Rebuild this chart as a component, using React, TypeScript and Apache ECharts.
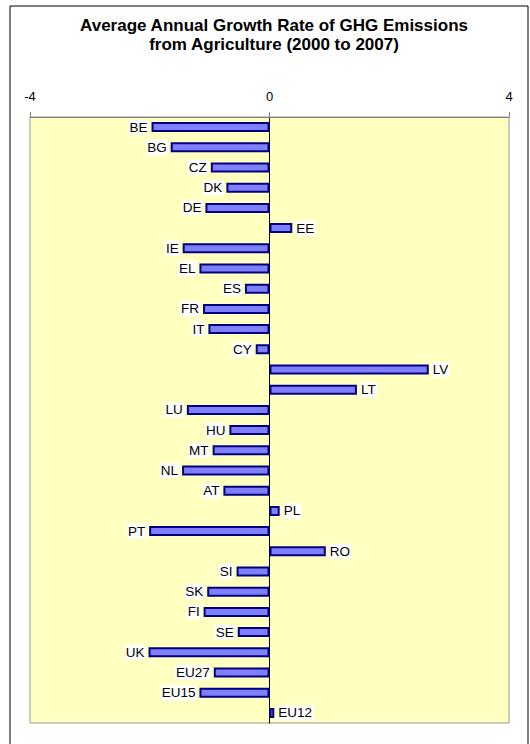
import React, { useEffect, useRef } from "react";
import * as echarts from "echarts";

const categories = ["BE","BG","CZ","DK","DE","EE","IE","EL","ES","FR","IT","CY","LV","LT","LU","HU","MT","NL","AT","PL","PT","RO","SI","SK","FI","SE","UK","EU27","EU15","EU12"];
const growthRates = [-1.97,-1.65,-0.98,-0.72,-1.07,0.38,-1.45,-1.17,-0.41,-1.11,-1.02,-0.23,2.66,1.46,-1.38,-0.67,-0.95,-1.46,-0.77,0.17,-2.01,0.94,-0.55,-1.04,-1.10,-0.53,-2.02,-0.93,-1.17,0.08];
const titleText = "Average Annual Growth Rate of GHG Emissions\nfrom Agriculture (2000 to 2007)";
const axisMin = -4;
const axisMax = 4;
const axisInterval = 4;

export default function App() {
  const ref = useRef<HTMLDivElement>(null);
  useEffect(() => {
    if (!ref.current) return;
    const chart = echarts.init(ref.current, null, { renderer: "svg" });
    const font = "Arial, 'Liberation Sans', sans-serif";
    chart.setOption({
      animation: false,
      backgroundColor: "#ffffff",
      title: {
        text: titleText,
        left: 269,
        textAlign: "center",
        top: 11,
        textStyle: { fontFamily: font, fontWeight: "bold", fontSize: 17, lineHeight: 19, color: "#000" },
      },
      graphic: [
        {
          type: "rect",
          z: -10,
          shape: { x: 10, y: 6, width: 518, height: 760 },
          style: { fill: "none", stroke: "#000", lineWidth: 1 },
        },
      ],
      grid: {
        left: 30,
        right: 21,
        top: 117,
        bottom: 21,
        show: true,
        backgroundColor: "#FFFFC0",
        borderColor: "#999999",
        borderWidth: 1,
      },
      xAxis: {
        type: "value",
        position: "top",
        min: axisMin,
        max: axisMax,
        interval: axisInterval,
        axisLine: { show: true, lineStyle: { color: "#808080", width: 1 } },
        axisTick: { show: true, length: 5, lineStyle: { color: "#808080" } },
        axisLabel: { color: "#000", fontFamily: font, fontSize: 13, margin: 14 },
        splitLine: { show: false },
      },
      yAxis: {
        type: "category",
        data: categories,
        inverse: true,
        axisLine: { show: true, onZero: true, lineStyle: { color: "#000", width: 1 } },
        axisTick: { show: false },
        axisLabel: { show: false },
        splitLine: { show: false },
      },
      series: [
        {
          type: "bar",
          barWidth: 10,
          itemStyle: { color: "#8080FF", borderColor: "#000080", borderWidth: 2 },
          label: {
            show: true,
            formatter: "{b}",
            color: "#000",
            fontFamily: font,
            fontSize: 13.5,
            backgroundColor: "#ffffff",
            padding: [1, 1, 0, 1],
            distance: 3,
          },
          data: growthRates.map((v) => ({
            value: v,
            label: { position: v < 0 ? "left" : "right" },
          })),
        },
      ],
    });
    return () => chart.dispose();
  }, []);
  return (
    <div
      ref={ref}
      style={{ position: "fixed", left: 0, top: 0, width: 530, height: 744 }}
    />
  );
}
